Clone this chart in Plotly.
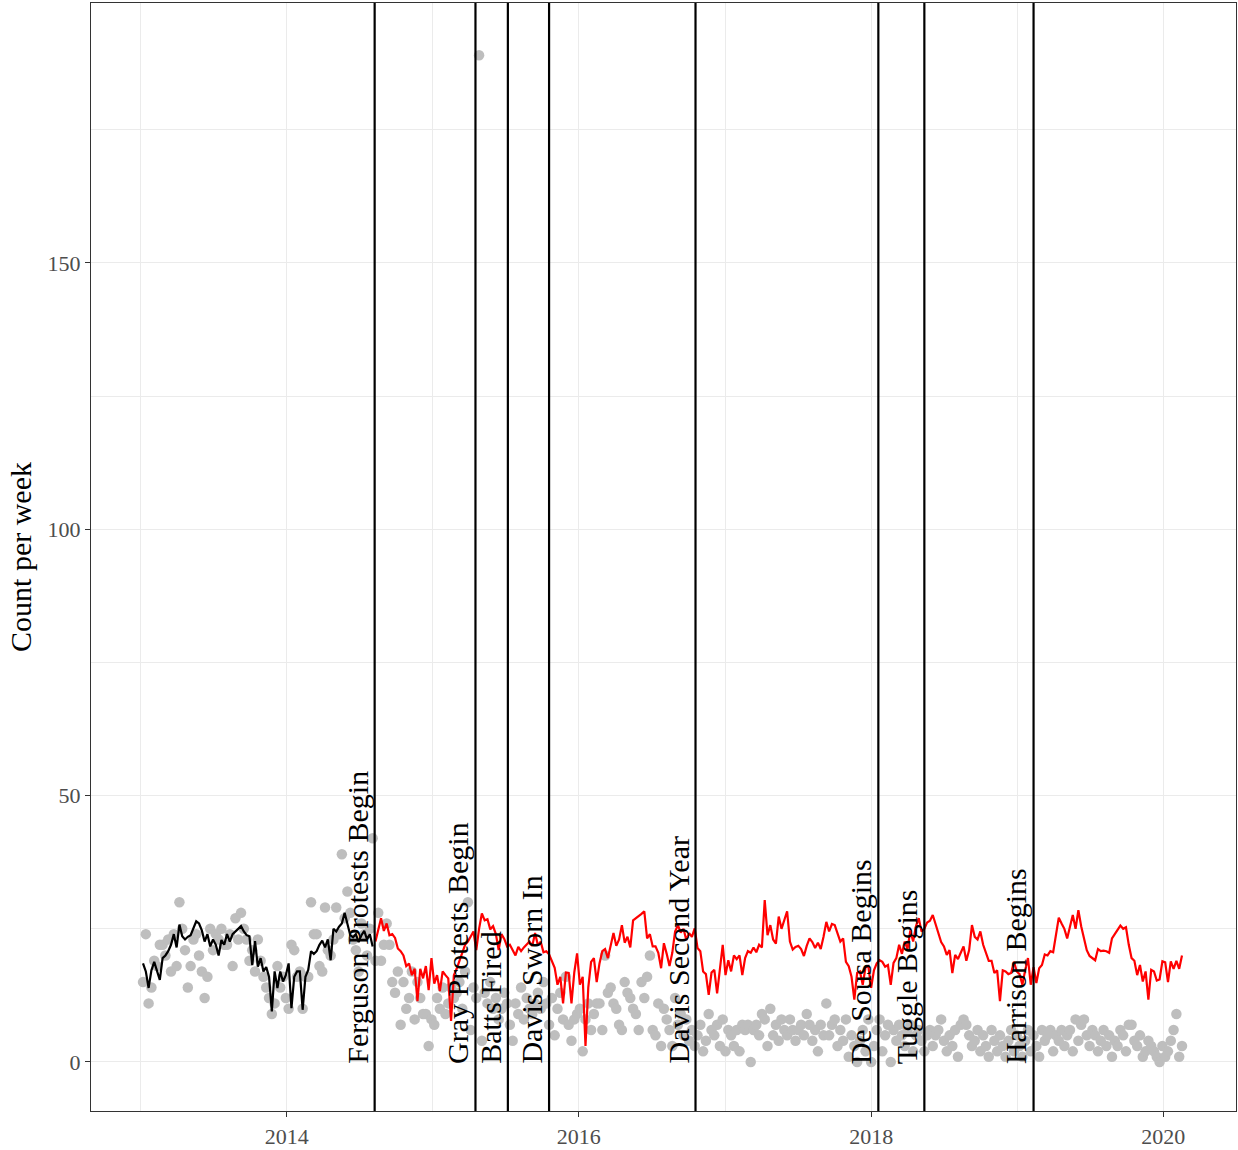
import pandas as pd
import plotly.graph_objects as go

# Weekly counts (gray points), week starting 2013-01-07
weekly_counts = [
    15, 24, 11, 14, 19, 18, 22, 22, 20, 23, 17, 24, 18, 30, 25, 21, 14, 18, 23, 24,
    20, 17, 12, 16, 25, 21, 24, 23, 25, 22, 22, 24, 18, 27, 23, 28, 25, 23, 19, 21,
    17, 23, 19, 16, 14, 12, 9, 11, 18, 14, 16, 12, 10, 22, 21, 16, 17, 10, 16, 16,
    30, 24, 24, 18, 17, 29, 21, 20, 23, 29, 24, 39, 27, 32, 28, 23, 21, 17, 26, 24,
    20, 25, 42,
    19, 28, 19, 22, 26, 22, 15, 13, 17, 7, 15, 10, 12, 17, 8, 15, 12, 9, 9, 3,
    8, 7, 12, 10, 14, 9, 11, 14, 12, 13, 15, 10, 17, 30, 6, 14, 12, 189, 4, 13,
    11, 15, 10, 12, 8, 10, 13, 11,
    7, 4, 11, 9, 14, 8, 12, 10, 9, 11, 13, 10, 15, 11, 7, 12, 5, 10, 13, 8,
    16, 7, 4, 8, 9, 10, 2, 8, 11, 6, 9, 11, 11, 6, 20, 13, 14, 11, 10, 7,
    6, 15, 13, 12, 10, 9, 6, 15, 12, 16, 20, 6, 5, 11, 3, 10, 8, 6, 3, 12,
    7, 9, 5, 8, 4, 6, 3, 5, 7, 2,
    4, 9, 6, 5, 7, 3, 8, 2, 6, 5, 3, 6, 2, 7, 6, 7, 0, 6, 7, 5,
    9, 8, 3, 10, 5, 7, 4, 8, 6, 5, 8, 6, 4, 6, 7, 5, 9, 7, 4, 6,
    2, 7, 5, 11, 5, 7, 8, 3, 6, 4, 8, 1, 5, 3, 0, 4, 6, 2, 8, 0,
    3, 6, 8, 2, 5, 7, 0, 6, 4, 7, 5, 3, 6, 7, 2, 5, 6, 4, 2, 5,
    6, 3, 5, 6, 8, 4, 2, 5, 3, 6, 1, 7, 8, 7, 5, 3, 4, 6, 2, 5,
    3, 1, 6, 4, 2, 5, 3, 1, 4, 6, 2, 5, 3, 1, 4, 6, 2, 5, 3, 1,
    6, 4, 5, 6, 2, 5, 4, 6, 3, 5, 6, 2, 8, 4, 7, 8, 5, 3, 6, 5,
    2, 4, 6, 3, 5, 1, 4, 3, 6, 5, 2, 7, 7, 4, 3, 5, 1, 2, 4, 3,
    2, 1, 0, 3, 1, 2, 4, 6, 9, 1, 3,
]

# Line before Ferguson (black)
line_before = [
    18.5, 17, 13.9, 17.2, 18.8, 17, 15.4, 19.5, 20, 20.8, 22, 24, 21.5, 25.8, 23.6, 23, 23.5, 23.8, 25, 26.4,
    26, 24.7, 22.6, 24, 21.7, 23, 22, 20, 22.9, 22, 24, 22.6, 24, 24.5, 25, 25.5, 24.5, 23.8, 23.6, 18.2,
    22.7, 17.9, 19.5, 17, 17.8, 16, 9.5, 17, 13.9, 17, 15.1, 16.3, 18.5, 10.1, 16, 17, 17, 9.8, 16, 17.3,
    20.8, 20.3, 20.8, 22, 22.8, 21.5, 23, 19.1, 25, 24.5, 25.4, 26, 28, 26, 23.8, 23.4, 24, 22.5, 23.8, 24.6,
    23, 24, 21.7,
]

# Line after Ferguson (red)
line_after = [
    22.6, 25, 27, 24.6, 26, 23.8, 24, 23.3, 21.3, 20.8, 20, 18, 18.5, 16.3, 17.5, 11.4, 17.5, 15.7, 18, 13.5,
    19.5, 14.7, 16.3, 13.3, 17, 16.3, 15.7, 7.7, 16.3, 17.5, 18.9, 20.5, 22, 22.6, 23.5, 24.5, 21, 25, 27.9, 26.6,
    26.8, 24.9, 25.5, 24, 21, 24, 23.1, 21.7, 22, 20.9, 20, 21.6, 20.8, 21.5, 22, 22.6, 21.8, 24.2, 21.9, 22.6,
    20.6, 20.8, 20.2, 18.8, 17.7, 14.5, 16, 11, 16.8, 16.7, 11, 16.8, 20.4, 14.5, 16, 3, 14, 18.8, 19.5, 15,
    18.5, 20.8, 21.2, 19.5, 22, 24.2, 21.8, 23, 25.7, 22.4, 23.5, 21.5, 26.6, 27, 27.3, 27.8, 28.3, 23.2, 24, 21.7,
    21.7, 20.5, 17.6, 22.3, 20.3, 18, 20.5, 24.5, 25.7, 24.3, 25, 22.9, 24.2, 23.5, 25.1, 21.4, 20.8, 17, 16.5, 12.6,
    16.8, 17.3, 12.9, 17.5, 22, 16.3, 19.1, 17, 20, 19.3, 20, 16.3, 19.5, 20.8, 20.5, 21.5, 20.6, 22, 21.5, 30.4,
    23.8, 25.7, 23, 22.2, 27.3, 25, 26.5, 28.3, 22.6, 21.1, 21.6, 21.8, 21.2, 19.9, 21.8, 23.2, 22.5, 21.4, 22.4, 21.2,
    23.5, 26.3, 24.5, 25.9, 25.7, 24.3, 22.6, 23.2, 18.8, 18, 16, 11.7, 16.7, 17, 14.5, 17.8, 18, 13.9, 17.2, 18.5,
    19.1, 18.8, 17.9, 18.2, 14.5, 18.6, 19.5, 22, 20.3, 22.6, 21.2, 24.7, 22.6, 25.5, 27, 24.5, 25, 26.2, 26.5, 27.6,
    26, 24, 22.5, 21.7, 20.1, 21, 16.7, 20.1, 19.3, 20.5, 21.7, 19, 21, 25.7, 23.5, 23, 24.5, 22, 20.5, 19,
    19, 16.7, 17.2, 11.4, 17.2, 17, 16.5, 16.7, 18.8, 17, 16.5, 14.5, 17.2, 19.5, 14.5, 17.8, 14.8, 17.6, 18.2, 20.2,
    20, 20.8, 20.6, 24.2, 27.1, 26, 25, 23.2, 25.3, 27.6, 25, 28.5, 25.5, 23.5, 21, 19.9, 19.5, 19.1, 21.2, 20.8,
    20.9, 20.8, 20.5, 23.2, 24, 24.9, 25.6, 25, 25.3, 22, 19.5, 19, 16.3, 18.2, 15.1, 17, 11.7, 17.3, 17, 15.3,
    15.5, 18.9, 18.7, 15, 18.9, 17.5, 19, 17.5, 20,
]

event_dates = ["2014-08-09", "2015-04-18", "2015-07-08", "2015-10-19", "2016-10-19",
               "2018-01-19", "2018-05-14", "2019-02-11"]
event_labels = ["Ferguson Protests Begin", "Gray Protests Begin", "Batts Fired", "Davis Sworn In",
                "Davis Second Year", "De Sousa Begins", "Tuggle Begins", "Harrison Begins"]

weeks = pd.date_range("2013-01-07", periods=len(weekly_counts), freq="7D")
weeks_before = weeks[:len(line_before)]
weeks_after = weeks[len(line_before):len(line_before) + len(line_after)]

FONT = "Liberation Serif"

fig = go.Figure()
fig.add_trace(go.Scatter(x=weeks, y=weekly_counts, mode="markers",
                         marker=dict(color="#bebebe", size=10.5), showlegend=False, hoverinfo="skip"))
fig.add_trace(go.Scatter(x=weeks_before, y=line_before, mode="lines",
                         line=dict(color="black", width=2.2), showlegend=False))
fig.add_trace(go.Scatter(x=weeks_after, y=line_after, mode="lines",
                         line=dict(color="#ff0000", width=2.2), showlegend=False))

for d, lab in zip(event_dates, event_labels):
    fig.add_shape(type="line", xref="x", yref="paper", x0=d, x1=d, y0=0, y1=1,
                  line=dict(color="black", width=2.2), layer="above")
    fig.add_annotation(x=d, y=0, xref="x", yref="y", text=lab, textangle=-90,
                       showarrow=False, xanchor="right", yanchor="bottom", yshift=-3,
                       font=dict(family=FONT, size=30, color="black"), borderpad=0)

fig.update_layout(
    width=1238, height=1150,
    margin=dict(l=91, r=1, t=3, b=37),
    plot_bgcolor="white", paper_bgcolor="white",
    font=dict(family=FONT),
    showlegend=False,
)
fig.update_xaxes(
    type="date", range=["2012-08-30", "2020-07-01"],
    tick0="2014-01-01", dtick="M24", tickformat="%Y",
    showgrid=True, gridcolor="#ebebeb", gridwidth=1.2,
    minor=dict(dtick="M12", tick0="2013-01-01", showgrid=True, gridcolor="#ebebeb", gridwidth=0.7, ticklen=0),
    showline=True, linecolor="#333333", linewidth=1.3, mirror=True,
    ticks="outside", ticklen=5, tickcolor="#333333", tickwidth=1.3,
    tickfont=dict(family=FONT, size=22, color="#4d4d4d"),
    zeroline=False,
)
fig.update_yaxes(
    range=[-9.2, 198.8], tick0=0, dtick=50,
    showgrid=True, gridcolor="#ebebeb", gridwidth=1.2,
    minor=dict(dtick=25, tick0=0, showgrid=True, gridcolor="#ebebeb", gridwidth=0.7, ticklen=0),
    showline=True, linecolor="#333333", linewidth=1.3, mirror=True,
    ticks="outside", ticklen=5, tickcolor="#333333", tickwidth=1.3,
    tickfont=dict(family=FONT, size=22, color="#4d4d4d"),
    title=dict(text="Count per week", font=dict(family=FONT, size=30, color="black"), standoff=6),
    zeroline=False,
)

fig.write_html("out.html", config={"displayModeBar": False},
               post_script="document.body.style.margin='0px';")
